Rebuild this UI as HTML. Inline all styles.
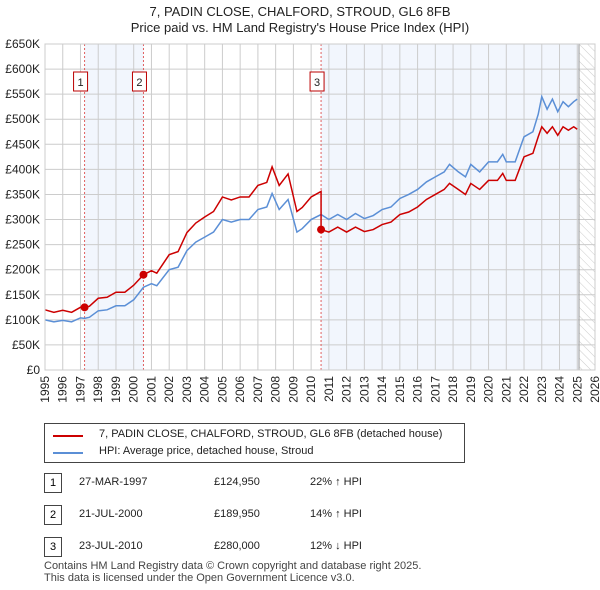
<!DOCTYPE html>
<html><head><meta charset="utf-8"><style>
body{margin:0;background:#fff;font-family:"Liberation Sans","DejaVu Sans",sans-serif;}
#wrap{position:relative;width:600px;height:590px;overflow:hidden}
.t{position:absolute;font-size:12px;color:#222}
</style></head><body><div id="wrap">
<div class="t" style="left:0;width:600px;top:4px;text-align:center;font-size:13px;line-height:16px">7, PADIN CLOSE, CHALFORD, STROUD, GL6 8FB<br>Price paid vs. HM Land Registry's House Price Index (HPI)</div>
<svg id="svg" width="600" height="420" style="position:absolute;left:0;top:0">
<defs><pattern id="hatch" width="6" height="6" patternUnits="userSpaceOnUse" patternTransform="rotate(-45)"><line x1="0" y1="0" x2="0" y2="6" stroke="#ccc" stroke-width="1"/></pattern></defs>
</svg>
<div style="position:absolute;left:44px;top:423px;width:419px;height:38px;border:1px solid #444">
<div style="position:absolute;left:8px;top:11px;width:30px;border-top:2px solid #cc0000"></div>
<div class="t" style="left:54px;top:4px;font-size:11px">7, PADIN CLOSE, CHALFORD, STROUD, GL6 8FB (detached house)</div>
<div style="position:absolute;left:8px;top:28px;width:30px;border-top:2px solid #5b8fd6"></div>
<div class="t" style="left:54px;top:21px;font-size:11px">HPI: Average price, detached house, Stroud</div>
</div>
<div id="tbl"></div>
<div class="t" style="left:44px;top:560px;font-size:11px;line-height:12px;color:#444">Contains HM Land Registry data © Crown copyright and database right 2025.<br>This data is licensed under the Open Government Licence v3.0.</div>
</div>
<script>
const times=[1995.0,1995.5,1996.0,1996.5,1997.0,1997.23,1997.5,1998.0,1998.5,1999.0,1999.5,2000.0,2000.55,2001.0,2001.3,2002.0,2002.5,2003.0,2003.5,2004.0,2004.5,2005.0,2005.5,2006.0,2006.5,2007.0,2007.5,2007.8,2008.2,2008.7,2009.2,2009.5,2010.0,2010.56,2011.0,2011.5,2012.0,2012.5,2013.0,2013.5,2014.0,2014.5,2015.0,2015.5,2016.0,2016.5,2017.0,2017.5,2017.8,2018.3,2018.7,2019.0,2019.5,2020.0,2020.5,2020.8,2021.0,2021.5,2022.0,2022.5,2022.8,2023.0,2023.3,2023.6,2023.9,2024.2,2024.5,2024.8,2025.0];
const hpi=[100,96,99,96,104,103,105,118,120,128,128,140,165,172,168,200,205,238,255,265,275,300,295,300,300,320,325,352,320,340,275,282,300,310,300,310,300,312,302,308,320,325,342,350,360,375,385,395,410,395,385,410,395,415,415,430,415,415,465,475,510,545,520,540,515,535,525,535,540];
const redTimes=[1995.0,1995.5,1996.0,1996.5,1997.0,1997.23,1997.5,1998.0,1998.5,1999.0,1999.5,2000.0,2000.55,2001.0,2001.3,2002.0,2002.5,2003.0,2003.5,2004.0,2004.5,2005.0,2005.5,2006.0,2006.5,2007.0,2007.5,2007.8,2008.2,2008.7,2009.2,2009.5,2010.0,2010.56,2010.56,2011.0,2011.5,2012.0,2012.5,2013.0,2013.5,2014.0,2014.5,2015.0,2015.5,2016.0,2016.5,2017.0,2017.5,2017.8,2018.3,2018.7,2019.0,2019.5,2020.0,2020.5,2020.8,2021.0,2021.5,2022.0,2022.5,2022.8,2023.0,2023.3,2023.6,2023.9,2024.2,2024.5,2024.8,2025.0];
const red=[120,115,119,115,125,124.95,127,143,145,155,155,169,189.95,198,193,230,236,274,293,305,316,345,339,345,345,368,374,405,368,391,316,324,345,356,280,275,285,275,285,276,280,290,295,310,315,325,340,350,360,372,360,350,372,360,378,378,392,378,378,425,432,465,485,472,485,468,485,478,485,480];
const saleTimes=[1997.23,2000.55,2010.56];
const salePrices=[124.95,189.95,280];
const saleLabels=["1","2","3"];
const saleDates=["27-MAR-1997","21-JUL-2000","23-JUL-2010"];
const salePriceText=["£124,950","£189,950","£280,000"];
const saleHpiText=["22% ↑ HPI","14% ↑ HPI","12% ↓ HPI"];
const yTicks=[0,50,100,150,200,250,300,350,400,450,500,550,600,650];
const xTicks=[];for(let y=1995;y<=2026;y++)xTicks.push(y);
const X0=45,X1=595,Y0=370,Y1=44;
const xs=t=>X0+(t-1995)/31*(X1-X0);
const ys=v=>Y0-v/650*(Y0-Y1);
const svg=document.getElementById('svg');const NS='http://www.w3.org/2000/svg';
function mk(tag,a,name){const e=document.createElementNS(NS,tag);for(const k in a)e.setAttribute(k,a[k]);


svg.appendChild(e);return e;}
mk('rect',{x:xs(1995),y:Y1,width:X1-X0,height:Y0-Y1,fill:'#fff'},'plot-background');
mk('rect',{x:xs(saleTimes[0]),y:Y1,width:xs(saleTimes[1])-xs(saleTimes[0]),height:Y0-Y1,fill:'#f2f6fd'},'shade-1-2');
mk('rect',{x:xs(saleTimes[2]),y:Y1,width:xs(2025.1)-xs(saleTimes[2]),height:Y0-Y1,fill:'#f2f6fd'},'shade-3-now');
mk('rect',{x:xs(2025.1),y:Y1,width:X1-xs(2025.1),height:Y0-Y1,fill:'url(#hatch)'},'future-hatch');
yTicks.forEach(v=>{mk('line',{x1:X0,x2:X1,y1:ys(v),y2:ys(v),stroke:'#ccc'},'y-gridline');
const t=mk('text',{x:40,y:ys(v)+4,'text-anchor':'end','font-size':12,fill:'#222'},'y-tick-label');t.textContent=v?'£'+v+'K':'£0';});
xTicks.forEach(y=>{mk('line',{x1:xs(y),x2:xs(y),y1:Y1,y2:Y0,stroke:'#ccc'},'x-gridline');
const t=mk('text',{x:xs(y)+4,y:376,'text-anchor':'end','font-size':12,fill:'#222',transform:`rotate(-90 ${xs(y)+4} 376)`},'x-tick-label');t.textContent=y;});
mk('line',{x1:xs(2025.1),x2:xs(2025.1),y1:Y1,y2:Y0,stroke:'#999'},'now-line');
saleTimes.forEach((t,i)=>{mk('line',{x1:xs(t),x2:xs(t),y1:Y1,y2:Y0,stroke:'#e06060','stroke-dasharray':'2,2'},'sale-line');});
mk('polyline',{points:times.map((t,i)=>xs(t)+','+ys(hpi[i])).join(' '),fill:'none',stroke:'#5b8fd6','stroke-width':1.5},'hpi-line');
mk('polyline',{points:redTimes.map((t,i)=>xs(t)+','+ys(red[i])).join(' '),fill:'none',stroke:'#cc0000','stroke-width':1.5},'price-line');
saleTimes.forEach((t,i)=>{mk('circle',{cx:xs(t),cy:ys(salePrices[i]),r:4,fill:'#cc0000'},'sale-point');
mk('rect',{x:xs(t)-11,y:72,width:14,height:19,fill:'#fff',stroke:'#b00'},'sale-marker-box');
const tx=mk('text',{x:xs(t)-4,y:86,'text-anchor':'middle','font-size':11,fill:'#222'},'sale-marker-label');tx.textContent=saleLabels[i];});
mk('rect',{x:X0,y:Y1,width:X1-X0,height:Y0-Y1,fill:'none',stroke:'#ccc'},'plot-border');
const tbl=document.getElementById('tbl');
saleLabels.forEach((l,i)=>{const top=473+i*32;
const r=document.createElement('div');r.style.cssText=`position:absolute;left:0;top:${top}px;width:600px;height:20px`;


r.innerHTML=`<div style="position:absolute;left:44px;top:0;width:16px;height:18px;border:1px solid #444;font-size:11px;text-align:center;line-height:18px">${l}</div>
<div class="t" style="left:79px;top:3px;font-size:11px">${saleDates[i]}</div><div class="t" style="left:214px;top:3px;font-size:11px">${salePriceText[i]}</div><div class="t" style="left:310px;top:3px;font-size:11px">${saleHpiText[i]}</div>`;
tbl.appendChild(r);});
</script></body></html>
